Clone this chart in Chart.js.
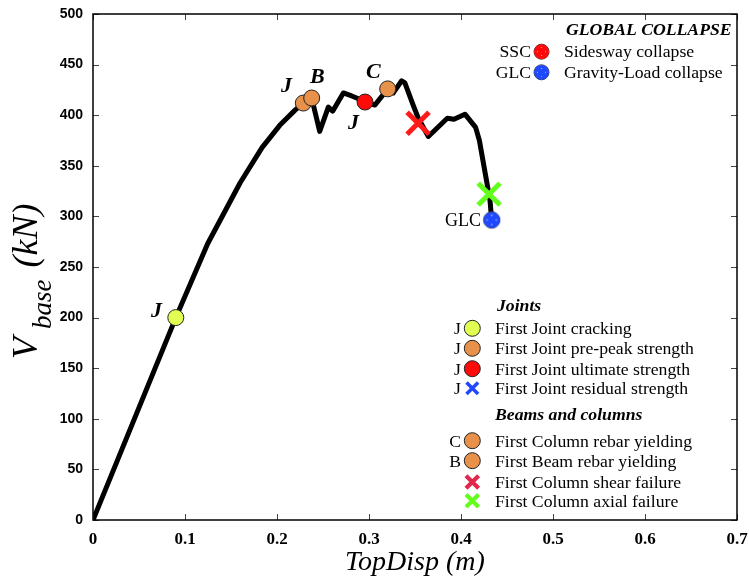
<!DOCTYPE html>
<html>
<head>
<meta charset="utf-8">
<script src="https://cdn.jsdelivr.net/npm/chart.js@4.4.0/dist/chart.umd.min.js"></script>
<style>
  html, body { margin: 0; padding: 0; background: #fff; }
  #wrap { width: 749px; height: 580px; }
</style>
</head>
<body>
<div id="wrap"><canvas id="c" width="749" height="580"></canvas></div>
<script>
// Pushover curve: roof displacement (m) against base shear (kN)
const topDisp = [0, 0.09, 0.1246, 0.1598, 0.1837, 0.203, 0.2196, 0.2286, 0.2377, 0.2464, 0.2558, 0.2605,
  0.2721, 0.2812, 0.2866, 0.2957, 0.3065, 0.3203, 0.3264, 0.3355, 0.339, 0.348, 0.3536, 0.3645,
  0.3851, 0.3924, 0.4043, 0.4159, 0.42, 0.4315, 0.433];
const baseShear = [0, 200, 273, 333, 368, 390, 405, 412, 417, 384, 408, 404,
  422, 419, 417, 413, 410, 426, 422, 434, 432, 410, 397, 379,
  397, 396, 401, 388, 375, 316, 300];

// Damage events along the curve: [displacement, base shear]
const jointCracking = [0.09, 200];
const jointPrePeak = [0.2286, 412];
const jointUltimate = [0.2957, 413];
const columnYield = [0.3203, 426];
const beamYield = [0.2377, 417];
const columnShear = [0.3533, 392];
const columnAxial = [0.4305, 322];
const gravityCollapse = [0.4334, 296.5];

// Axis ticks
const xTicks = [0, 0.1, 0.2, 0.3, 0.4, 0.5, 0.6, 0.7];
const yTicks = [0, 50, 100, 150, 200, 250, 300, 350, 400, 450, 500];

// Legend texts
const collapseTitle = 'GLOBAL COLLAPSE';
const collapseCodes = ['SSC', 'GLC'];
const collapseLabels = ['Sidesway collapse', 'Gravity-Load collapse'];
const jointTitle = 'Joints';
const jointCodes = ['J', 'J', 'J', 'J'];
const jointLabels = ['First Joint cracking', 'First Joint pre-peak strength', 'First Joint ultimate strength', 'First Joint residual strength'];
const memberTitle = 'Beams and columns';
const memberCodes = ['C', 'B', '', ''];
const memberLabels = ['First Column rebar yielding', 'First Beam rebar yielding', 'First Column shear failure', 'First Column axial failure'];

const SERIF = '"Liberation Serif", "Times New Roman", serif';
const COL = {
  yellow: '#e1ff52', orange: '#e8914a', red: '#ff0a0a', blue: '#1f48ff',
  crimson: '#e3264c', green: '#62ff1c', shear: '#ff1a1a'
};

function circleMark(ctx, x, y, r, fill) {
  ctx.beginPath();
  ctx.arc(x, y, r, 0, Math.PI * 2);
  ctx.fillStyle = fill;
  ctx.fill();
  ctx.lineWidth = 1;
  ctx.strokeStyle = '#222';
  ctx.stroke();
}
function crossMark(ctx, x, y, h, color, lw) {
  ctx.beginPath();
  ctx.moveTo(x - h, y - h); ctx.lineTo(x + h, y + h);
  ctx.moveTo(x - h, y + h); ctx.lineTo(x + h, y - h);
  ctx.strokeStyle = color;
  ctx.lineWidth = lw;
  ctx.lineCap = 'butt';
  ctx.stroke();
}
// circled cross used for the global collapse states
function collapseMark(ctx, x, y, r, color) {
  ctx.save();
  ctx.beginPath();
  ctx.arc(x, y, r, 0, Math.PI * 2);
  ctx.fillStyle = '#fff';
  ctx.fill();
  ctx.lineWidth = 1;
  ctx.strokeStyle = '#333';
  ctx.stroke();
  ctx.beginPath();
  ctx.arc(x, y, r - 1.7, 0, Math.PI * 2);
  ctx.lineWidth = 3.2;
  ctx.strokeStyle = color;
  ctx.stroke();
  ctx.beginPath();
  ctx.arc(x, y, r - 0.5, 0, Math.PI * 2);
  ctx.clip();
  const h = r * 0.75;
  crossMark(ctx, x, y, h, color, r * 0.66);
  ctx.restore();
}
function collapseSprite(r, color) {
  const c = document.createElement('canvas');
  c.width = c.height = Math.ceil(r * 2 + 4);
  const g = c.getContext('2d');
  collapseMark(g, c.width / 2, c.height / 2, r, color);
  return c;
}

function pt(p) { return [{ x: p[0], y: p[1] }]; }
function circleSet(p, color, order) {
  return {
    data: pt(p), showLine: false, pointStyle: 'circle', pointRadius: 8, pointHoverRadius: 8,
    pointBackgroundColor: color, pointBorderColor: '#222', pointBorderWidth: 1, order: order
  };
}
function crossSet(p, color, order) {
  return {
    data: pt(p), showLine: false, pointStyle: 'crossRot', pointRadius: 15.5, pointHoverRadius: 15.5,
    pointBorderColor: color, pointBorderWidth: 5, order: order
  };
}

const decorations = {
  id: 'decorations',
  afterDraw(chart) {
    const ctx = chart.ctx;
    const a = chart.chartArea;
    const xs = chart.scales.x, ys = chart.scales.y;
    ctx.save();

    // inward tick marks on all four sides
    ctx.strokeStyle = '#444';
    ctx.lineWidth = 1;
    ctx.beginPath();
    xTicks.forEach(v => {
      const px = Math.round(xs.getPixelForValue(v)) + 0.5;
      ctx.moveTo(px, a.bottom); ctx.lineTo(px, a.bottom - 6);
      ctx.moveTo(px, a.top); ctx.lineTo(px, a.top + 6);
    });
    yTicks.forEach(v => {
      const py = Math.round(ys.getPixelForValue(v)) + 0.5;
      ctx.moveTo(a.left, py); ctx.lineTo(a.left + 6, py);
      ctx.moveTo(a.right, py); ctx.lineTo(a.right - 6, py);
    });
    ctx.stroke();

    // frame
    ctx.strokeStyle = '#000';
    ctx.lineWidth = 1.5;
    ctx.strokeRect(a.left, a.top, a.right - a.left, a.bottom - a.top);

    ctx.fillStyle = '#000';
    ctx.textBaseline = 'alphabetic';

    // x axis title
    ctx.font = 'italic 28px ' + SERIF;
    ctx.textAlign = 'center';
    ctx.fillText('TopDisp (m)', (a.left + a.right) / 2, 570);

    // y axis title with subscript
    ctx.save();
    ctx.translate(37, 359);
    ctx.rotate(-Math.PI / 2);
    ctx.textAlign = 'left';
    ctx.font = 'italic 36px ' + SERIF;
    ctx.fillText('V', 0, 0);
    let off = ctx.measureText('V').width + 8;
    ctx.font = 'italic 27px ' + SERIF;
    ctx.fillText('base', off, 14);
    off += ctx.measureText('base').width + 12;
    ctx.font = 'italic 36px ' + SERIF;
    ctx.fillText('(kN)', off, 0);
    ctx.restore();

    // event tags next to the markers
    ctx.font = 'bold italic 22px ' + SERIF;
    ctx.textAlign = 'left';
    ctx.fillText('J', 151, 317);
    ctx.fillText('J', 281, 92);
    ctx.fillText('B', 310, 83);
    ctx.fillText('C', 366, 78);
    ctx.fillText('J', 348, 129);
    ctx.font = '18px ' + SERIF;
    ctx.textAlign = 'right';
    ctx.fillText('GLC', 481, 226);

    // global collapse legend
    ctx.font = 'bold italic 17.7px ' + SERIF;
    ctx.textAlign = 'left';
    ctx.fillText(collapseTitle, 566, 35);
    const cRows = [51.7, 72.3];
    const cColors = [COL.red, COL.blue];
    cRows.forEach((y, i) => {
      ctx.font = '17.7px ' + SERIF;
      ctx.textAlign = 'right';
      ctx.fillStyle = '#000';
      ctx.fillText(collapseCodes[i], 531, y + 5.5);
      ctx.textAlign = 'left';
      ctx.fillText(collapseLabels[i], 564, y + 5.5);
      collapseMark(ctx, 541.5, y, 7.5, cColors[i]);
    });

    // joints legend
    ctx.fillStyle = '#000';
    ctx.font = 'bold italic 17.7px ' + SERIF;
    ctx.textAlign = 'left';
    ctx.fillText(jointTitle, 497, 311);
    const jRows = [328.3, 348.3, 368.7, 388.3];
    jRows.forEach((y, i) => {
      ctx.fillStyle = '#000';
      ctx.font = '17.7px ' + SERIF;
      ctx.textAlign = 'right';
      ctx.fillText(jointCodes[i], 461, y + 6);
      ctx.textAlign = 'left';
      ctx.fillText(jointLabels[i], 495, y + 6);
    });
    circleMark(ctx, 472.3, jRows[0], 8, COL.yellow);
    circleMark(ctx, 472.3, jRows[1], 8, COL.orange);
    circleMark(ctx, 472.3, jRows[2], 8, COL.red);
    crossMark(ctx, 472.3, jRows[3], 5.8, COL.blue, 3.5);

    // beams and columns legend
    ctx.fillStyle = '#000';
    ctx.font = 'bold italic 17.7px ' + SERIF;
    ctx.textAlign = 'left';
    ctx.fillText(memberTitle, 495, 420);
    const mRows = [440.7, 460.7, 482, 500.7];
    mRows.forEach((y, i) => {
      ctx.fillStyle = '#000';
      ctx.font = '17.7px ' + SERIF;
      ctx.textAlign = 'right';
      if (memberCodes[i]) ctx.fillText(memberCodes[i], 461, y + 6);
      ctx.textAlign = 'left';
      ctx.fillText(memberLabels[i], 495, y + 6);
    });
    circleMark(ctx, 472.3, mRows[0], 8, COL.orange);
    circleMark(ctx, 472.3, mRows[1], 8, COL.orange);
    crossMark(ctx, 472.3, mRows[2], 6.3, COL.crimson, 4.2);
    crossMark(ctx, 472.3, mRows[3], 6.3, COL.green, 4.2);

    ctx.restore();
  }
};

new Chart(document.getElementById('c'), {
  type: 'scatter',
  data: {
    datasets: [
      {
        data: topDisp.map((x, i) => ({ x: x, y: baseShear[i] })),
        showLine: true, borderColor: '#000', borderWidth: 5, pointRadius: 0, pointHoverRadius: 0,
        borderJoinStyle: 'round', borderCapStyle: 'butt', tension: 0, order: 20
      },
      circleSet(jointCracking, COL.yellow, 9),
      circleSet(jointPrePeak, COL.orange, 8),
      circleSet(beamYield, COL.orange, 7),
      circleSet(jointUltimate, COL.red, 6),
      circleSet(columnYield, COL.orange, 5),
      crossSet(columnShear, COL.shear, 4),
      crossSet(columnAxial, COL.green, 3),
      {
        data: pt(gravityCollapse), showLine: false,
        pointStyle: collapseSprite(8.2, COL.blue), pointRadius: 8, order: 2
      }
    ]
  },
  options: {
    responsive: false,
    animation: false,
    events: [],
    layout: { autoPadding: false, padding: { left: 0, right: 12, top: 14, bottom: 0 } },
    plugins: { legend: { display: false }, tooltip: { enabled: false } },
    scales: {
      x: {
        type: 'linear', min: 0, max: 0.7,
        afterFit: s => { s.height = 60; },
        afterBuildTicks: s => { s.ticks = xTicks.map(v => ({ value: v })); },
        grid: { display: false, drawTicks: true, tickLength: 9 },
        border: { display: false },
        ticks: {
          padding: 0, color: '#000', maxRotation: 0,
          font: { family: SERIF, weight: 'bold', size: 17 },
          callback: v => (v === 0 ? '0' : v.toFixed(1))
        }
      },
      y: {
        type: 'linear', min: 0, max: 500,
        afterFit: s => { s.width = 93; },
        afterBuildTicks: s => { s.ticks = yTicks.map(v => ({ value: v })); },
        grid: { display: false, drawTicks: true, tickLength: 10 },
        border: { display: false },
        ticks: {
          padding: 0, color: '#000',
          font: { family: '"Liberation Sans", Arial, sans-serif', weight: 'bold', size: 14 },
          callback: v => String(v)
        }
      }
    }
  },
  plugins: [decorations]
});
</script>
</body>
</html>
